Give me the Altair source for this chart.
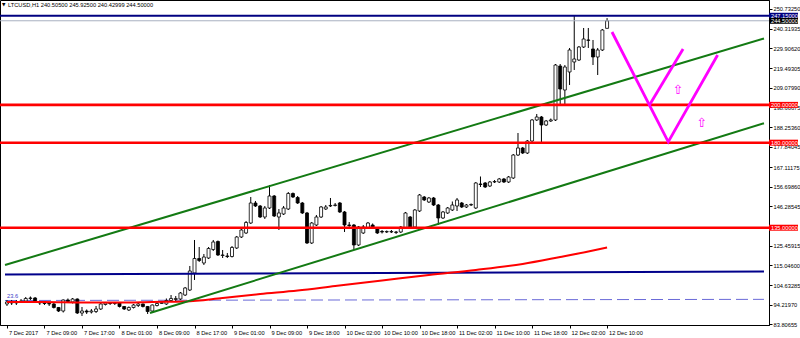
import altair as alt
import pandas as pd

# ---------------- data ----------------
opens = [94.65, 95.71, 95.18, 95.97, 96.23, 97.56, 97.82, 95.71, 95.18, 94.91,
         94.65, 92.80, 90.94, 96.76, 95.71, 97.29, 89.88, 90.94, 90.41, 90.68,
         92.00, 94.38, 95.18, 94.91, 95.18, 93.33, 91.47, 92.80, 93.85, 94.65,
         93.33, 90.94, 93.85, 94.91, 94.65, 96.50, 97.03, 97.29, 99.40, 102.05,
         111.05, 118.72, 116.34, 118.98, 123.48, 127.72, 120.31, 120.04, 119.78, 124.28,
         130.10, 132.22, 137.50, 148.09, 146.50, 140.68, 145.44, 151.79, 140.68, 142.27,
         144.91, 153.11, 151.00, 148.09, 142.80, 126.92, 136.44, 140.68, 144.91, 146.50,
         146.77, 148.09, 143.33, 136.44, 136.44, 125.86, 132.22, 134.86, 136.44, 134.86,
         133.01, 132.74, 132.74, 132.48, 132.74, 134.86, 140.68, 135.39, 143.86, 151.26,
         148.62, 150.73, 147.03, 140.15, 142.80, 144.38, 146.50, 148.09, 145.97, 147.03,
         145.44, 158.14, 158.67, 157.08, 159.20, 159.20, 160.79, 159.20, 161.32, 173.48,
         177.19, 174.54, 180.89, 192.01, 193.59, 189.36, 191.48, 192.01, 220.57, 207.87,
         217.40, 222.69, 223.75, 230.62, 234.33, 229.57, 225.34, 229.04, 240.505]
closes = [95.71, 95.18, 95.97, 96.23, 97.56, 97.82, 95.71, 95.18, 94.91, 94.65,
          92.80, 90.94, 96.76, 95.97, 97.29, 89.88, 90.94, 90.41, 90.94, 92.00,
          94.65, 95.18, 94.91, 95.18, 93.33, 92.00, 92.80, 94.12, 94.65, 93.33,
          90.68, 94.12, 94.91, 95.44, 96.50, 97.56, 97.56, 100.46, 103.11, 112.11,
          118.72, 117.66, 119.51, 124.01, 127.45, 120.57, 120.57, 119.78, 124.54, 130.10,
          133.80, 137.77, 148.09, 146.50, 140.68, 145.44, 151.79, 141.21, 142.80, 145.44,
          153.11, 151.26, 148.09, 142.80, 126.92, 137.50, 140.68, 145.97, 145.97, 146.77,
          147.03, 143.33, 136.44, 136.18, 125.86, 135.39, 135.39, 137.50, 135.39, 132.22,
          132.74, 133.01, 133.01, 132.74, 135.39, 142.80, 135.39, 144.38, 152.32, 149.68,
          150.73, 147.03, 140.15, 143.33, 145.44, 147.03, 149.68, 145.97, 147.03, 147.30,
          158.67, 157.87, 156.55, 159.20, 159.46, 160.79, 159.20, 161.84, 173.48, 177.19,
          174.54, 180.89, 192.01, 193.59, 189.36, 191.48, 192.01, 221.10, 208.40, 220.04,
          229.04, 224.28, 230.62, 234.86, 234.17, 225.34, 229.04, 239.62, 244.50]
highs = [96.76, 96.76, 96.76, 97.29, 98.35, 98.61, 98.35, 96.23, 95.71, 95.44,
         95.18, 93.06, 97.03, 97.56, 97.82, 97.56, 93.06, 91.74, 92.00, 93.59,
         95.18, 95.71, 95.71, 95.71, 95.44, 93.59, 93.33, 94.65, 95.18, 94.91,
         93.59, 94.38, 95.71, 96.23, 97.56, 99.40, 98.88, 100.99, 103.64, 114.76,
         128.51, 124.80, 121.10, 124.80, 128.51, 128.24, 123.22, 121.63, 125.33, 130.63,
         134.33, 138.56, 151.26, 149.15, 147.03, 146.50, 157.61, 152.32, 144.91, 146.50,
         153.91, 153.64, 151.79, 148.62, 143.33, 138.03, 141.74, 146.50, 147.03, 150.73,
         148.09, 148.62, 143.86, 138.03, 136.97, 135.92, 136.44, 138.03, 137.24, 135.39,
         133.80, 133.54, 133.80, 133.27, 135.92, 143.33, 141.21, 144.91, 152.85, 151.79,
         151.26, 151.26, 147.56, 143.86, 145.97, 148.88, 150.73, 148.62, 147.56, 147.82,
         159.20, 162.11, 159.20, 159.73, 160.26, 161.32, 161.32, 162.37, 174.01, 185.12,
         177.72, 181.42, 192.53, 195.18, 194.12, 192.01, 192.80, 221.63, 221.63, 221.10,
         230.10, 247.15, 231.15, 240.68, 240.68, 234.33, 230.10, 240.15, 245.925]
lows = [93.59, 94.12, 94.12, 95.18, 95.71, 96.76, 95.18, 94.12, 94.12, 93.59,
        92.27, 90.41, 90.15, 95.18, 94.91, 89.36, 88.30, 89.36, 89.62, 89.88,
        91.47, 93.85, 94.12, 94.12, 92.80, 91.47, 90.94, 92.27, 93.06, 92.80,
        89.36, 90.41, 93.33, 94.65, 94.12, 95.97, 96.23, 96.76, 98.88, 101.52,
        107.35, 116.87, 115.28, 118.46, 122.69, 120.04, 118.98, 118.98, 119.25, 123.75,
        129.57, 131.69, 136.98, 145.97, 140.15, 139.62, 144.91, 140.68, 133.80, 141.74,
        144.38, 150.73, 147.56, 142.27, 126.39, 126.39, 135.92, 140.15, 144.38, 145.97,
        146.24, 142.80, 132.74, 135.39, 123.22, 125.33, 131.69, 134.33, 134.86, 131.69,
        131.95, 132.22, 132.22, 131.69, 132.22, 134.33, 134.86, 134.86, 143.33, 149.15,
        148.09, 146.50, 136.44, 139.62, 142.27, 143.86, 143.86, 145.44, 145.44, 146.50,
        144.91, 156.55, 156.02, 156.55, 158.67, 158.67, 158.67, 158.67, 160.79, 172.95,
        174.01, 174.01, 180.36, 191.48, 179.83, 188.83, 190.95, 191.48, 199.94, 199.94,
        210.52, 218.46, 223.22, 230.10, 230.10, 221.10, 215.81, 228.51, 240.43]

x_label_bars = [0, 8, 16, 24, 32, 40, 48, 56, 64, 72, 80, 88, 96, 104, 112, 120, 128]
x_labels = ["7 Dec 2017", "7 Dec 09:00", "7 Dec 17:00", "8 Dec 01:00", "8 Dec 09:00",
            "8 Dec 17:00", "9 Dec 01:00", "9 Dec 09:00", "9 Dec 18:00", "10 Dec 02:00",
            "10 Dec 10:00", "10 Dec 18:00", "11 Dec 02:00", "11 Dec 10:00", "11 Dec 18:00",
            "12 Dec 02:00", "12 Dec 10:00"]
y_ticks = [83.80655, 94.21970, 104.63285, 115.04600, 125.45915, 146.28545, 156.69860,
           167.11175, 177.84045, 188.25360, 198.66675, 209.07990, 219.49305, 229.90620,
           240.31935, 250.73250]

red_levels = [200.0, 180.0, 135.0]
high_level = 247.15
bid_level = 244.50

# trend lines: (bar position, price) end points
upper_ch_x = [-0.42, 161.47]
upper_ch_p = [115.28, 235.12]
lower_ch_x = [30.5, 161.47]
lower_ch_p = [89.90, 190.25]
blue_line_x = [-0.42, 161.47]
blue_line_p = [110.26, 111.85]
fib_x = [-0.42, 161.47]
fib_p = [96.50, 97.10]

ma_x = [0, 8, 16, 24, 31, 38, 46, 54, 62, 70, 80, 90, 100, 110, 118, 124, 128]
ma_p = [95.71, 95.71, 95.44, 95.44, 95.71, 95.97, 97.82, 99.93, 101.79, 104.17,
        107.08, 109.99, 112.63, 115.81, 119.51, 122.42, 124.54]

proj_main_x = [129.05, 141.05, 151.58]
proj_main_p = [238.56, 180.40, 226.40]
proj_branch_x = [137.05, 144.21]
proj_branch_p = [199.94, 229.57]
arrow_x = [143.1, 148.2]
arrow_p = [207.87, 190.42]

title_text = "LTCUSD,H1  240.50500 245.92500 240.42999 244.50000"

# ---------------- chart ----------------
W, H = 769, 325
xs = alt.Scale(domain=[-0.421, 161.474], nice=False, zero=False)
ys = alt.Scale(domain=[83.53, 255.494], nice=False, zero=False)
FONT = "Liberation Sans"
FS = 5.7

candles = pd.DataFrame({"i": list(range(len(opens))), "open": opens, "close": closes,
                        "high": highs, "low": lows})

label_expr = "[" + ",".join("'%s'" % s for s in x_labels) + "][datum.value/8]"

X_AXIS = alt.Axis(values=x_label_bars, labelExpr=label_expr,
                  labelAlign="left", labelOffset=1.5, labelFontSize=FS, labelFont=FONT,
                  labelColor="#000", tickSize=3, tickColor="#000", domainColor="#000",
                  labelPadding=1, labelBaseline="top", grid=False, title=None,
                  labelOverlap=False, labelFlush=False, labelSeparation=0)
Y_AXIS = alt.Axis(values=y_ticks, format=".5f", orient="right",
                  labelFontSize=FS, labelFont=FONT, labelColor="#000", tickSize=3,
                  tickColor="#000", domainColor="#000", labelPadding=1, grid=False,
                  title=None, labelOverlap=False, labelFlush=False, labelSeparation=0,
                  labelBaseline="middle")


def X(f):
    return alt.X(f, scale=xs, axis=X_AXIS)


def Y(f):
    return alt.Y(f, scale=ys, axis=Y_AXIS)


base = alt.Chart(candles)
wicks = base.mark_rule(color="black", strokeWidth=1).encode(x=X("i:Q"), y=Y("low:Q"), y2="high:Q")
bodies = base.mark_bar(size=3, stroke="black", strokeWidth=0.8).encode(
    x=X("i:Q"), y=Y("open:Q"), y2="close:Q",
    fill=alt.condition("datum.open > datum.close", alt.value("black"), alt.value("white")))

red_rules = alt.Chart(pd.DataFrame({"p": red_levels})).mark_rule(
    color="#ff0000", strokeWidth=2.6).encode(y=Y("p:Q"))
high_rule = alt.Chart(pd.DataFrame({"p": [high_level]})).mark_rule(
    color="#000080", strokeWidth=2).encode(y=Y("p:Q"))
bid_rule = alt.Chart(pd.DataFrame({"p": [bid_level]})).mark_rule(
    color="#a8b0c0", strokeWidth=1).encode(y=Y("p:Q"))


def seg(xv, pv, name):
    return pd.DataFrame({"x": xv, "p": pv, "name": name})


green_df = pd.concat([seg(upper_ch_x, upper_ch_p, "up"), seg(lower_ch_x, lower_ch_p, "lo")])
green = alt.Chart(green_df).mark_line(color="#137a13", strokeWidth=2, clip=True).encode(
    x=X("x:Q"), y=Y("p:Q"), detail="name:N")
blue = alt.Chart(seg(blue_line_x, blue_line_p, "b")).mark_line(
    color="#00008b", strokeWidth=2, clip=True).encode(x=X("x:Q"), y=Y("p:Q"))
fib = alt.Chart(seg(fib_x, fib_p, "f")).mark_line(
    color="#6a6ad8", strokeWidth=1, strokeDash=[12, 5], clip=True).encode(
    x=X("x:Q"), y=Y("p:Q"))
ma = alt.Chart(seg(ma_x, ma_p, "ma")).mark_line(
    color="#ff0000", strokeWidth=2, interpolate="monotone", clip=True).encode(
    x=X("x:Q"), y=Y("p:Q"))

proj_df = pd.concat([seg(proj_main_x, proj_main_p, "m"), seg(proj_branch_x, proj_branch_p, "b")])
proj = alt.Chart(proj_df).mark_line(color="#ff00ff", strokeWidth=2.8, strokeJoin="miter").encode(
    x=X("x:Q"), y=Y("p:Q"), detail="name:N", order="x:Q")
arrows = alt.Chart(pd.DataFrame({"x": arrow_x, "p": arrow_p, "t": ["⇧", "⇧"]})).mark_text(
    font="DejaVu Sans", fontSize=13, color="#ff00ff", baseline="middle", align="center").encode(
    x=X("x:Q"), y=Y("p:Q"), text="t:N")

fib_label = alt.Chart(pd.DataFrame({"x": [0], "p": [98.61], "t": ["23.6"]})).mark_text(
    font=FONT, fontSize=FS, color="#4040c8", align="left", baseline="middle").encode(
    x=X("x:Q"), y=Y("p:Q"), text="t:N")

title = alt.Chart(pd.DataFrame({"t": [title_text]})).mark_text(
    font=FONT, fontSize=5.7, color="#000", align="left", baseline="middle").encode(
    x=alt.value(8), y=alt.value(5), text="t:N")
tri = alt.Chart(pd.DataFrame({"t": ["▼"]})).mark_text(
    font="DejaVu Sans", fontSize=4.5, color="#000", align="left", baseline="middle").encode(
    x=alt.value(2), y=alt.value(5), text="t:N")

box_df = pd.DataFrame({
    "p": [high_level, bid_level] + red_levels,
    "t": ["%.5f" % v for v in [high_level, bid_level] + red_levels],
    "c": ["#000080", "#000000", "#ff0000", "#ff0000", "#ff0000"],
})
boxes = alt.Chart(box_df).mark_rule(strokeWidth=6).encode(
    x=alt.value(769), x2=alt.value(798), y=Y("p:Q"),
    color=alt.Color("c:N", scale=None))
box_text = alt.Chart(box_df).mark_text(
    font=FONT, fontSize=FS, color="white", align="left", baseline="middle").encode(
    x=alt.value(771), y=Y("p:Q"), text="t:N")

chart = alt.layer(
    fib, wicks, bodies, blue, ma, green, red_rules, high_rule, bid_rule,
    proj, arrows, fib_label, title, tri, boxes, box_text
).properties(
    width=W, height=H,
    autosize=alt.AutoSizeParams(type="none"),
    padding={"left": 0, "top": 0, "right": 31, "bottom": 13},
    background="white",
).configure_view(stroke="black", strokeWidth=1)

chart.save("out.html", embed_options={"renderer": "svg", "actions": False})
